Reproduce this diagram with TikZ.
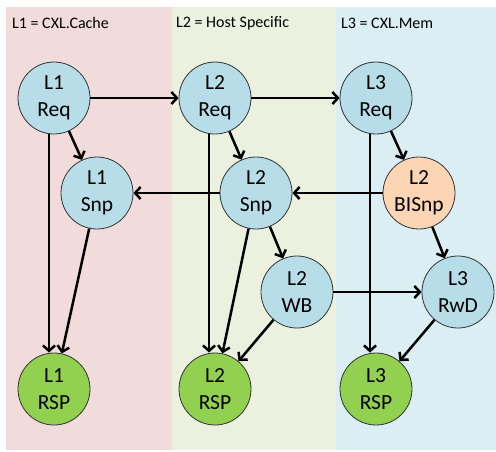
\documentclass[tikz,border=0pt]{standalone}
\usepackage{fontspec}
\setmainfont{Carlito}
\usetikzlibrary{arrows.meta}
\definecolor{bgpink}{HTML}{F2DCDB}
\definecolor{bggreen}{HTML}{EBF1DE}
\definecolor{bgblue}{HTML}{DBEEF3}
\definecolor{nblue}{HTML}{B7DEE8}
\definecolor{norange}{HTML}{FCD5B5}
\definecolor{ngreen}{HTML}{92D050}
\tikzset{
  st/.style={circle, draw=black!80, line width=0.8pt, minimum size=72pt, inner sep=0pt,
    align=center, font=\fontsize{21.5}{27}\selectfont},
  req/.style={st, fill=nblue},
  bis/.style={st, fill=norange},
  rsp/.style={st, fill=ngreen},
  conn/.style={line width=2.5pt, -{Straight Barb[length=5.5pt,width=12pt,line width=2.5pt]}},
  hdr/.style={anchor=west, inner sep=0pt, font=\fontsize{16}{18}\selectfont}
}
\begin{document}
\begin{tikzpicture}[x=1pt,y=-1pt]
\useasboundingbox (0,0) rectangle (496,451);
\fill[white] (0,0) rectangle (496,451);
\fill[bgpink] (6,7) rectangle (172,450);
\fill[bggreen] (172,7) rectangle (336,450);
\fill[bgblue] (336,7) rectangle (496,450);
\node[hdr] (h1) at (12,23) {L1 = CXL.Cache};
\node[hdr] (h2) at (176,23) {L2 = Host Specific};
\node[hdr] (h3) at (341,23) {L3 = CXL.Mem};

\node[req] (l1req) at (54,98) {L1\\Req};
\node[req] (l2req) at (215,98) {L2\\Req};
\node[req] (l3req) at (376,98) {L3\\Req};
\node[req] (l1snp) at (97,193) {L1\\Snp};
\node[req] (l2snp) at (256,193) {L2\\Snp};
\node[bis] (l2bis) at (419,193) {L2\\BISnp};
\node[req] (l2wb) at (297,292) {L2\\WB};
\node[req] (l3rwd) at (458,292) {L3\\RwD};
\node[rsp] (l1rsp) at (54,389) {L1\\RSP};
\node[rsp] (l2rsp) at (215,389) {L2\\RSP};
\node[rsp] (l3rsp) at (376,389) {L3\\RSP};

\draw[conn] (l1req) -- (l2req);
\draw[conn] (l2req) -- (l3req);
\draw[conn] (l1req) -- (l1snp);
\draw[conn] (l2req) -- (l2snp);
\draw[conn] (l3req) -- (l2bis);
\draw[conn] (l1req.south) ++(-5,0) coordinate (a1) -- (a1 |- l1rsp.north);
\draw[conn] (l2req.south) ++(-6,0) coordinate (a2) -- (a2 |- l2rsp.north);
\draw[conn] (l3req.south) ++(-6,0) coordinate (a3) -- (a3 |- l3rsp.north);
\draw[conn] (l2snp) -- (l1snp);
\draw[conn] (l2bis) -- (l2snp);
\draw[conn] (l1snp) -- (l1rsp);
\draw[conn] (l2snp) -- (l2rsp);
\draw[conn] (l2snp) -- (l2wb);
\draw[conn] (l2wb) -- (l2rsp);
\draw[conn] (l2bis) -- (l3rwd);
\draw[conn] (l2wb) -- (l3rwd);
\draw[conn] (l3rwd) -- (l3rsp);
\end{tikzpicture}
\end{document}
